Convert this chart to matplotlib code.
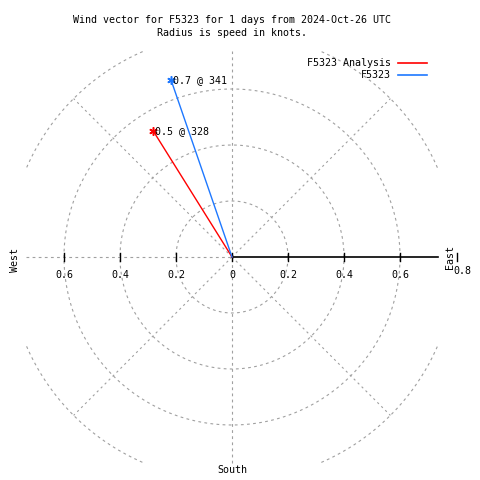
import numpy as np
import matplotlib
matplotlib.use('Agg')
import matplotlib.pyplot as plt

# wind vectors (speed in knots, direction in degrees)
names = ['F5323 Analysis', 'F5323']
speeds = [0.53, 0.67]
dirs = [328, 341]
colors = ['#ff0000', '#1e78ff']

rings = [0.2, 0.4, 0.6, 0.8]
tick_vals = [0.2, 0.4, 0.6]
box = 0.735

plt.rcParams['font.family'] = ['DejaVu Sans Mono']
fs = 7.2
grey = '#a0a0a0'

fig = plt.figure(figsize=(4.8, 4.8), dpi=100)
ax = fig.add_axes([0, 0, 1, 1])
scale = 280.0
cx, cy = 232, 257
ax.set_xlim(-cx / scale, (480 - cx) / scale)
ax.set_ylim(-(480 - cy) / scale, cy / scale)
ax.axis('off')

# range rings, clipped to the plot box
th = np.linspace(0, 2 * np.pi, 721)
for r in rings:
    x = r * np.cos(th)
    y = r * np.sin(th)
    m = (np.abs(x) > box) | (np.abs(y) > box)
    x[m] = np.nan
    y[m] = np.nan
    ax.plot(x, y, color=grey, lw=0.8, ls=(0, (2.5, 3)))

# radial lines
for a in [45, 135, 225, 315]:
    t = np.radians(a)
    ax.plot([0, 0.8 * np.cos(t)], [0, 0.8 * np.sin(t)], color=grey, lw=0.8, ls=(0, (2, 3)))
ax.plot([0, 0], [-box, box], color=grey, lw=0.8, ls=(0, (2.5, 3)))
ax.plot([-box, 0], [0, 0], color=grey, lw=0.8, ls=(0, (2.5, 3)))
ax.plot([0, box], [0, 0], color='black', lw=1.2)

# ticks and labels along the x axis
tk = 4 / scale
ly = -18 / scale
for v in tick_vals:
    ax.plot([-v, -v], [-tk, tk], color='black', lw=1)
    ax.plot([v, v], [-tk, tk], color='black', lw=1)
    ax.text(-v, ly, '%.1f' % v, ha='center', va='center', fontsize=fs)
    ax.text(v, ly, '%.1f' % v, ha='center', va='center', fontsize=fs)
ax.plot([0, 0], [-tk, tk], color='black', lw=1)
ax.text(0, ly, '0', ha='center', va='center', fontsize=fs)
ax.plot([225 / scale, 225 / scale], [-tk, tk], color='black', lw=1)
ax.text(230 / scale, -14 / scale, '0.8', ha='center', va='center', fontsize=fs)

ax.text(-217 / scale, -3 / scale, 'West', rotation=90, ha='center', va='center', fontsize=fs)
ax.text(218 / scale, 0, 'East', rotation=90, ha='center', va='center', fontsize=fs)
ax.text(0, -213 / scale, 'South', ha='center', va='center', fontsize=fs)

# vectors
for s, d, c in zip(speeds, dirs, colors):
    t = np.radians(d)
    x, y = s * np.sin(t), s * np.cos(t)
    ax.plot([0, x], [0, y], color=c, lw=1)
    ax.plot(x, y, marker=(6, 2, 0), color=c, ms=6, mew=1.1)
    ax.text(x + 2 / scale, y, '%.1f @ %d' % (s, d), ha='left', va='center', fontsize=fs)

# title and legend
fig.text(232 / 480, 1 - 20 / 480, 'Wind vector for F5323 for 1 days from 2024-Oct-26 UTC',
         ha='center', va='center', fontsize=fs)
fig.text(232 / 480, 1 - 33 / 480, 'Radius is speed in knots.', ha='center', va='center', fontsize=fs)
for i, (n, c) in enumerate(zip(names, colors)):
    yy = 1 - (63 + 12 * i) / 480
    fig.text(391 / 480, yy, n, ha='right', va='center', fontsize=fs)
    fig.add_artist(plt.Line2D([398 / 480, 427 / 480], [yy, yy], color=c, lw=1.2))

fig.savefig('out.png', dpi=100)
